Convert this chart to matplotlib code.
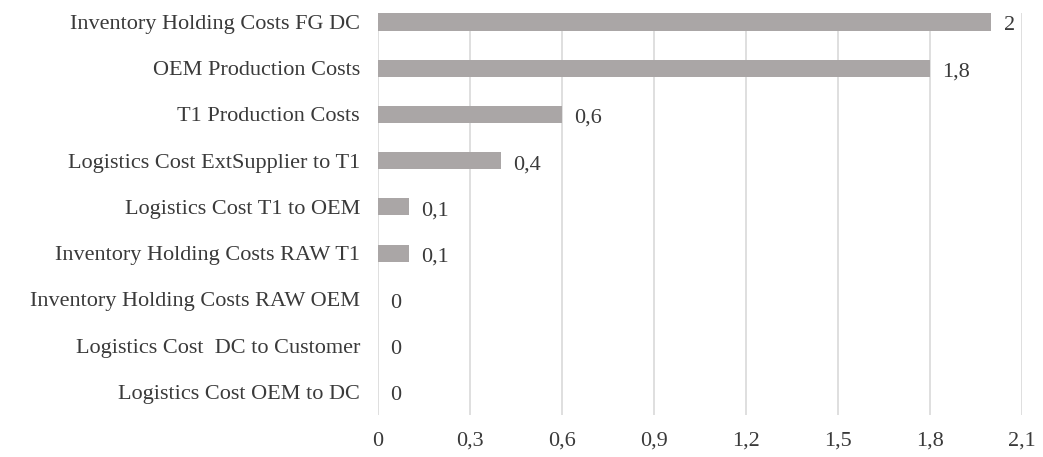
import matplotlib
matplotlib.use("Agg")
import matplotlib.pyplot as plt

categories = [
    "Inventory Holding Costs FG DC",
    "OEM Production Costs",
    "T1 Production Costs",
    "Logistics Cost ExtSupplier to T1",
    "Logistics Cost T1 to OEM",
    "Inventory Holding Costs RAW T1",
    "Inventory Holding Costs RAW OEM",
    "Logistics Cost  DC to Customer",
    "Logistics Cost OEM to DC",
]
values = [2.0, 1.8, 0.6, 0.4, 0.1, 0.1, 0.0, 0.0, 0.0]
value_labels = ["2", "1,8", "0,6", "0,4", "0,1", "0,1", "0", "0", "0"]
xticks = [0, 0.3, 0.6, 0.9, 1.2, 1.5, 1.8, 2.1]
xtick_labels = ["0", "0,3", "0,6", "0,9", "1,2", "1,5", "1,8", "2,1"]

plt.rcParams['font.family'] = ['Liberation Serif', 'DejaVu Serif']
text_color = "#3a3a3a"
fs = 16

fig = plt.figure(figsize=(10.43, 4.57), dpi=100)
ax = fig.add_axes([0.3624, 0.0919, 0.6175, 0.8797])

pos = list(range(len(categories)))
ax.barh(pos, values, height=0.37, color="#aaa6a6", zorder=3)
for p, v, lab in zip(pos, values, value_labels):
    ax.annotate(lab, (v, p), xytext=(9, -1), textcoords="offset points",
                va="center_baseline", ha="left", fontsize=fs, color=text_color)

ax.set_xlim(0, 2.1)
ax.set_ylim(8.5, -0.195)
ax.set_yticks(pos)
ax.set_yticklabels(categories, fontsize=fs, color=text_color)
ax.set_xticks(xticks)
ax.set_xticklabels(xtick_labels, fontsize=fs, color=text_color)
ax.tick_params(axis="both", length=0)
ax.tick_params(axis="y", pad=13)
ax.tick_params(axis="x", pad=12)
ax.grid(axis="x", color="#d9d9d9", linewidth=1.2, zorder=0)
for s in ax.spines.values():
    s.set_visible(False)

fig.savefig("out.png", dpi=100)
